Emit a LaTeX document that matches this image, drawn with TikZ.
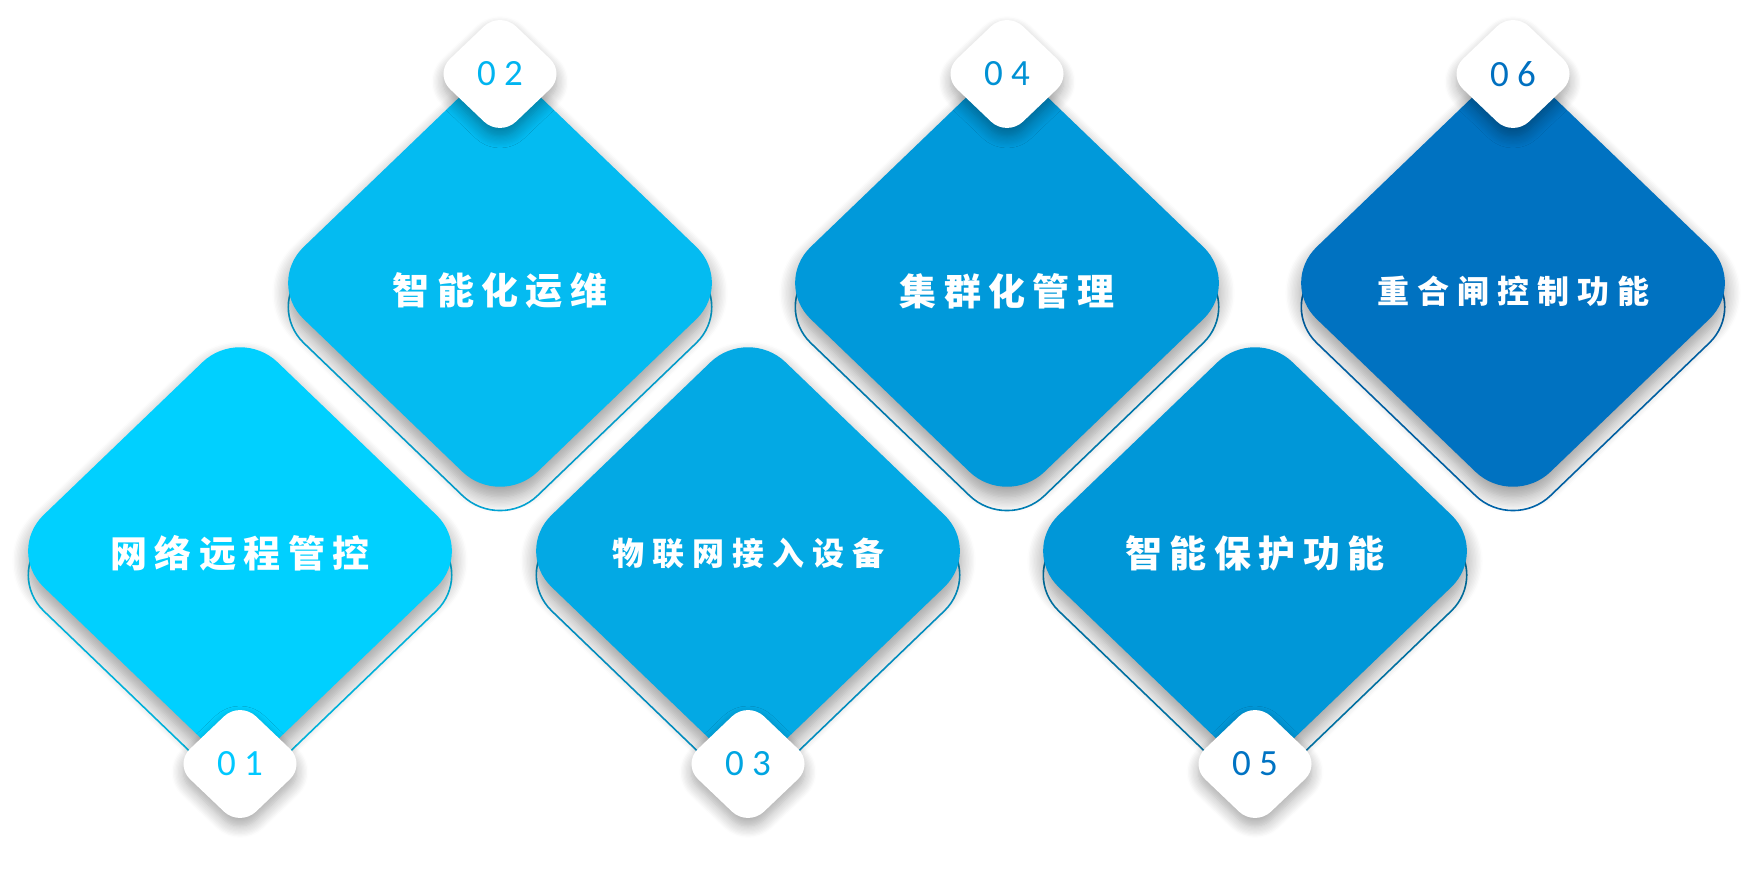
\documentclass[tikz,border=0pt]{standalone}
\usepackage{fontspec}
\usetikzlibrary{shapes.geometric,shadows.blur}

\newfontfamily\cardfont[LetterSpace=20]{Noto Sans CJK SC}
\newfontfamily\cardfontwide[LetterSpace=25]{Noto Sans CJK SC}
\newfontfamily\numfont[LetterSpace=22]{Carlito}

\definecolor{blueA}{RGB}{0,208,255}
\definecolor{blueB}{RGB}{4,187,241}
\definecolor{blueC}{RGB}{3,169,228}
\definecolor{blueD}{RGB}{0,153,218}
\definecolor{blueE}{RGB}{0,151,216}
\definecolor{blueF}{RGB}{0,114,193}

\begin{document}
\begin{tikzpicture}[x=0.5pt, y=-0.5pt,
  card/.style={diamond, minimum width=234pt, minimum height=225pt,
    rounded corners=26pt, inner sep=0pt,
    blur shadow={shadow xshift=0pt, shadow yshift=-5pt,
      shadow blur radius=8pt, shadow blur steps=12, shadow opacity=42}},
  rim/.style={diamond, minimum width=234pt, minimum height=225pt,
    rounded corners=26pt, inner sep=0pt, line width=0.8pt},
  badge/.style={diamond, minimum width=66pt, minimum height=63pt,
    rounded corners=11pt, inner sep=0pt, fill=white,
    font=\numfont\fontsize{18.5}{20}\selectfont,
    blur shadow={shadow xshift=0pt, shadow yshift=-4pt,
      shadow blur radius=6pt, shadow blur steps=10, shadow opacity=35}},
  big/.style={text=white, font=\cardfont\bfseries\fontsize{18.5}{20}\selectfont},
  small/.style={text=white, font=\cardfontwide\bfseries\fontsize{16}{18}\selectfont}]

  \useasboundingbox (0,0) rectangle (1754,876);

  % rims sit 24px under each card
  \node[rim, draw=blueA!92!black] (r1) at (240,575) {};
  \node[rim, draw=blueB!90!black] (r2) at (500,307) {};
  \node[rim, draw=blueC!90!black] (r3) at (748,575) {};
  \node[rim, draw=blueD!85!black] (r4) at (1007,307) {};
  \node[rim, draw=blueE!80!black] (r5) at (1255,575) {};
  \node[rim, draw=blueF!90!black] (r6) at (1513,307) {};

  \node[card, fill=blueA] (c1) at (240,551) {};
  \node[card, fill=blueB] (c2) at (500,283) {};
  \node[card, fill=blueC] (c3) at (748,551) {};
  \node[card, fill=blueD] (c4) at (1007,283) {};
  \node[card, fill=blueE] (c5) at (1255,551) {};
  \node[card, fill=blueF] (c6) at (1513,283) {};

  \node[big]   (t1) at (240,553)  {网络远程管控};
  \node[big]   (t2) at (500,291)  {智能化运维};
  \node[small] (t3) at (748,553)  {物联网接入设备};
  \node[big]   (t4) at (1007,291) {集群化管理};
  \node[big]   (t5) at (1255,553) {智能保护功能};
  \node[small] (t6) at (1513,291) {重合闸控制功能};

  % number badges
  \node[badge, text={rgb,255:red,0;green,200;blue,255}] (b1) at (240,764)  {01};
  \node[badge, text={rgb,255:red,0;green,180;blue,240}] (b2) at (500,74)   {02};
  \node[badge, text={rgb,255:red,0;green,165;blue,225}] (b3) at (748,764)  {03};
  \node[badge, text={rgb,255:red,0;green,145;blue,212}] (b4) at (1007,74)  {04};
  \node[badge, text={rgb,255:red,0;green,115;blue,195}] (b5) at (1255,764) {05};
  \node[badge, text={rgb,255:red,0;green,112;blue,192}] (b6) at (1513,74)  {06};
\end{tikzpicture}
\end{document}
